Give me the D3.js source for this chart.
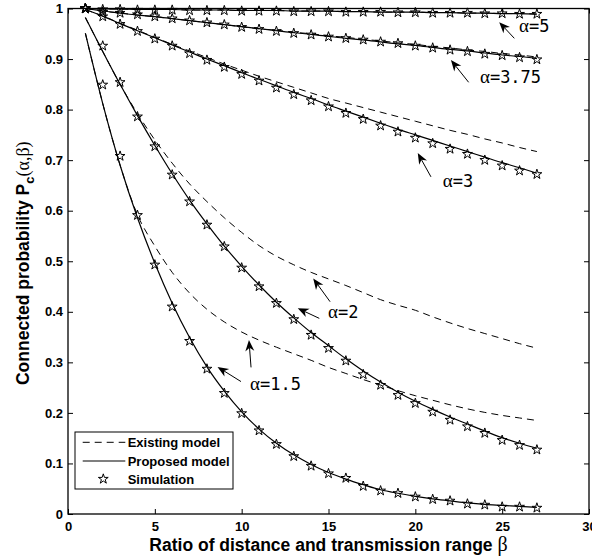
<!DOCTYPE html>
<html>
<head>
<meta charset="utf-8">
<script src="https://d3js.org/d3.v7.min.js"></script>
<style>
  body { margin: 0; background: #fff; }
  svg { display: block; }
  .tick text { font-family: "Liberation Sans", Arial, sans-serif; font-weight: bold; font-size: 13px; fill: #000; }
  .tick line { stroke: #000; stroke-width: 1; }
  .aText { font-family: "Liberation Sans", Arial, sans-serif; font-weight: bold; font-size: 17.5px; fill: #000; }
  .greek { font-family: "Liberation Serif", "DejaVu Serif", serif; font-weight: normal; }
  .note { font-family: "DejaVu Sans Mono", monospace; font-size: 17px; fill: #000; }
  .legText { font-family: "Liberation Sans", Arial, sans-serif; font-weight: bold; font-size: 13px; fill: #000; }
</style>
</head>
<body>
<div id="chart"></div>
<script>
// beta = distance / transmission range
var beta = [1, 2, 3, 4, 5, 6, 7, 8, 9, 10, 11, 12, 13, 14, 15, 16, 17, 18, 19, 20, 21, 22, 23, 24, 25, 26, 27];

// alpha = 1.5
var existing15 = [0.951, 0.812, 0.690, 0.592, 0.530, 0.478, 0.437, 0.405, 0.380, 0.360, 0.344, 0.330, 0.317, 0.304, 0.290, 0.278, 0.266, 0.255, 0.244, 0.234, 0.225, 0.216, 0.208, 0.201, 0.195, 0.190, 0.185];
var proposed15 = [0.951, 0.812, 0.690, 0.586, 0.496, 0.417, 0.349, 0.291, 0.243, 0.202, 0.168, 0.140, 0.117, 0.098, 0.082, 0.069, 0.058, 0.048, 0.041, 0.035, 0.030, 0.026, 0.022, 0.019, 0.017, 0.015, 0.013];
var sim15 = [1.000, 0.849, 0.708, 0.591, 0.493, 0.410, 0.342, 0.287, 0.239, 0.199, 0.165, 0.138, 0.114, 0.095, 0.080, 0.071, 0.055, 0.046, 0.041, 0.034, 0.029, 0.026, 0.020, 0.018, 0.014, 0.014, 0.012];

// alpha = 2
var existing2 = [0.982, 0.915, 0.850, 0.792, 0.740, 0.694, 0.653, 0.618, 0.586, 0.557, 0.531, 0.510, 0.493, 0.478, 0.465, 0.452, 0.438, 0.424, 0.413, 0.403, 0.390, 0.378, 0.367, 0.357, 0.347, 0.337, 0.328];
var proposed2 = [0.982, 0.915, 0.850, 0.788, 0.729, 0.673, 0.621, 0.574, 0.530, 0.490, 0.453, 0.419, 0.388, 0.359, 0.333, 0.307, 0.283, 0.261, 0.241, 0.223, 0.207, 0.192, 0.178, 0.164, 0.151, 0.140, 0.130];
var sim2 = [1.000, 0.926, 0.854, 0.786, 0.727, 0.671, 0.618, 0.572, 0.529, 0.487, 0.450, 0.417, 0.385, 0.354, 0.328, 0.303, 0.276, 0.255, 0.235, 0.219, 0.202, 0.186, 0.173, 0.160, 0.146, 0.136, 0.127];

// alpha = 3
var existing3 = [0.998, 0.985, 0.971, 0.957, 0.943, 0.929, 0.916, 0.903, 0.890, 0.878, 0.866, 0.855, 0.844, 0.833, 0.822, 0.813, 0.804, 0.795, 0.786, 0.777, 0.768, 0.759, 0.751, 0.742, 0.734, 0.725, 0.717];
var proposed3 = [0.998, 0.985, 0.970, 0.956, 0.942, 0.928, 0.914, 0.900, 0.887, 0.873, 0.860, 0.847, 0.834, 0.822, 0.809, 0.797, 0.785, 0.773, 0.761, 0.750, 0.739, 0.728, 0.717, 0.706, 0.695, 0.685, 0.674];
var sim3 = [1.000, 0.984, 0.969, 0.955, 0.940, 0.926, 0.911, 0.898, 0.884, 0.870, 0.857, 0.843, 0.830, 0.818, 0.806, 0.793, 0.781, 0.768, 0.756, 0.744, 0.733, 0.722, 0.712, 0.700, 0.689, 0.679, 0.672];

// alpha = 3.75
var existing375 = [1.000, 0.995, 0.991, 0.987, 0.984, 0.980, 0.976, 0.972, 0.968, 0.964, 0.960, 0.957, 0.953, 0.950, 0.946, 0.943, 0.939, 0.936, 0.932, 0.929, 0.925, 0.922, 0.918, 0.915, 0.911, 0.908, 0.904];
var proposed375 = [1.000, 0.995, 0.991, 0.987, 0.984, 0.980, 0.976, 0.972, 0.968, 0.964, 0.960, 0.956, 0.952, 0.949, 0.945, 0.941, 0.938, 0.934, 0.930, 0.927, 0.923, 0.919, 0.916, 0.912, 0.908, 0.905, 0.901];
var sim375 = [1.000, 0.993, 0.991, 0.988, 0.984, 0.980, 0.976, 0.972, 0.968, 0.963, 0.959, 0.955, 0.951, 0.948, 0.944, 0.941, 0.938, 0.934, 0.931, 0.926, 0.922, 0.918, 0.915, 0.910, 0.907, 0.903, 0.899];

// alpha = 5
var existing5 = [1.000, 0.999, 0.999, 0.998, 0.998, 0.998, 0.997, 0.997, 0.997, 0.996, 0.996, 0.996, 0.995, 0.995, 0.995, 0.994, 0.994, 0.993, 0.993, 0.993, 0.992, 0.992, 0.991, 0.991, 0.990, 0.990, 0.989];
var proposed5 = [1.000, 0.999, 0.999, 0.998, 0.998, 0.998, 0.997, 0.997, 0.997, 0.996, 0.996, 0.996, 0.995, 0.995, 0.995, 0.994, 0.994, 0.993, 0.993, 0.993, 0.992, 0.992, 0.991, 0.991, 0.990, 0.990, 0.989];
var sim5 = [1.000, 0.998, 0.998, 0.997, 0.997, 0.997, 0.996, 0.996, 0.996, 0.995, 0.995, 0.995, 0.994, 0.994, 0.994, 0.993, 0.993, 0.993, 0.992, 0.992, 0.991, 0.991, 0.991, 0.990, 0.990, 0.989, 0.989];

var xTicks = [0, 5, 10, 15, 20, 25, 30];
var yTicks = [0, 0.1, 0.2, 0.3, 0.4, 0.5, 0.6, 0.7, 0.8, 0.9, 1];
var legendLabels = ["Existing model", "Proposed model", "Simulation"];

// curve labels: text position and arrows [tailX, tailY, tipX, tipY], all in data units
var alphaLabels = ["5", "3.75", "3", "2", "1.5"];
var labelPos = [[25.97, 0.954], [23.72, 0.852], [21.58, 0.6475], [14.97, 0.3887], [10.48, 0.2453]];
var labelArrows = [
  [[25.70, 0.941, 24.83, 0.973]],
  [[23.07, 0.854, 22.05, 0.898]],
  [[20.90, 0.667, 20.14, 0.714]],
  [[15.09, 0.420, 14.12, 0.466], [14.47, 0.387, 13.23, 0.407]],
  [[10.54, 0.290, 10.42, 0.344], [9.96, 0.262, 8.61, 0.291]]
];

var series = [
  {existing: existing15, proposed: proposed15, sim: sim15},
  {existing: existing2, proposed: proposed2, sim: sim2},
  {existing: existing3, proposed: proposed3, sim: sim3},
  {existing: existing375, proposed: proposed375, sim: sim375},
  {existing: existing5, proposed: proposed5, sim: sim5}
];

var svgWidth = 592;
var svgHeight = 560;
var margin = {top: 8.5, right: 3, bottom: 46, left: 68};
var width = svgWidth - margin.left - margin.right;
var height = svgHeight - margin.top - margin.bottom;

var svg = d3.select("#chart")
  .append("svg")
  .attr("width", svgWidth)
  .attr("height", svgHeight);

var chartGroup = svg.append("g")
  .attr("transform", `translate(${margin.left}, ${margin.top})`);

var xScale = d3.scaleLinear().domain([0, 30]).range([0, width]);
var yScale = d3.scaleLinear().domain([0, 1]).range([height, 0]);

var yFormat = d => (d === 0 || d === 1) ? String(d) : d.toFixed(1);

// axes with inward ticks on all four sides
chartGroup.append("g")
  .attr("transform", `translate(0, ${height})`)
  .call(d3.axisBottom(xScale).tickValues(xTicks).tickSizeInner(-5).tickSizeOuter(0).tickPadding(8))
  .call(g => g.select(".domain").remove());

chartGroup.append("g")
  .call(d3.axisLeft(yScale).tickValues(yTicks).tickFormat(yFormat).tickSizeInner(-5).tickSizeOuter(0).tickPadding(5))
  .call(g => g.select(".domain").remove());

chartGroup.append("g")
  .call(d3.axisTop(xScale).tickValues(xTicks).tickFormat("").tickSizeInner(-5).tickSizeOuter(0))
  .call(g => g.select(".domain").remove());

chartGroup.append("g")
  .attr("transform", `translate(${width}, 0)`)
  .call(d3.axisRight(yScale).tickValues(yTicks).tickFormat("").tickSizeInner(-5).tickSizeOuter(0))
  .call(g => g.select(".domain").remove());

var line = d3.line()
  .x((d, i) => xScale(beta[i]))
  .y(d => yScale(d))
  .curve(d3.curveMonotoneX);

var star = d3.symbol().type(d3.symbolStar).size(30);

series.forEach(function(s) {
  chartGroup.append("path")
    .attr("d", line(s.existing))
    .attr("fill", "none")
    .attr("stroke", "#000")
    .attr("stroke-width", 1)
    .attr("stroke-dasharray", "7,5");

  chartGroup.append("path")
    .attr("d", line(s.proposed))
    .attr("fill", "none")
    .attr("stroke", "#000")
    .attr("stroke-width", 1.2);

  chartGroup.selectAll(null)
    .data(s.sim)
    .enter()
    .append("path")
    .attr("d", star)
    .attr("transform", (d, i) => `translate(${xScale(beta[i])}, ${yScale(d)})`)
    .attr("fill", "none")
    .attr("stroke", "#000")
    .attr("stroke-width", 1);
});

// frame
chartGroup.append("rect")
  .attr("width", width)
  .attr("height", height)
  .attr("fill", "none")
  .attr("stroke", "#000")
  .attr("stroke-width", 1.3);

// arrows pointing at the curves
function drawArrow(a) {
  var x1 = xScale(a[0]), y1 = yScale(a[1]), x2 = xScale(a[2]), y2 = yScale(a[3]);
  var dx = x2 - x1, dy = y2 - y1, len = Math.sqrt(dx * dx + dy * dy);
  var ux = dx / len, uy = dy / len, nx = -uy, ny = ux;
  var hl = 11, hw = 4.5;
  var bx = x2 - ux * hl, by = y2 - uy * hl;
  var cx = x2 - ux * hl * 0.7, cy = y2 - uy * hl * 0.7;
  chartGroup.append("line")
    .attr("x1", x1).attr("y1", y1)
    .attr("x2", cx).attr("y2", cy)
    .attr("stroke", "#000")
    .attr("stroke-width", 1);
  chartGroup.append("path")
    .attr("d", `M${x2},${y2}L${bx + nx * hw},${by + ny * hw}L${cx},${cy}L${bx - nx * hw},${by - ny * hw}Z`)
    .attr("fill", "#000");
}

alphaLabels.forEach(function(lab, i) {
  labelArrows[i].forEach(drawArrow);
  var t = chartGroup.append("text")
    .attr("class", "note")
    .attr("x", xScale(labelPos[i][0]))
    .attr("y", yScale(labelPos[i][1]));
  t.append("tspan").attr("class", "greek").style("font-size", "19px").text("α");
  t.append("tspan").text("=" + lab);
});

// legend
var legend = chartGroup.append("g")
  .attr("transform", "translate(7, 423.5)");

legend.append("rect")
  .attr("width", 158)
  .attr("height", 57)
  .attr("fill", "#fff")
  .attr("stroke", "#000")
  .attr("stroke-width", 1);

var rowY = [10.3, 29, 47];

legend.append("line")
  .attr("x1", 7.7).attr("x2", 50.3)
  .attr("y1", rowY[0]).attr("y2", rowY[0])
  .attr("stroke", "#000")
  .attr("stroke-dasharray", "7,5");

legend.append("line")
  .attr("x1", 7.7).attr("x2", 50.3)
  .attr("y1", rowY[1]).attr("y2", rowY[1])
  .attr("stroke", "#000")
  .attr("stroke-width", 1.2);

legend.append("path")
  .attr("d", star)
  .attr("transform", `translate(28.3, ${rowY[2]})`)
  .attr("fill", "none")
  .attr("stroke", "#000")
  .attr("stroke-width", 1);

legend.selectAll(null)
  .data(legendLabels)
  .enter()
  .append("text")
  .attr("class", "legText")
  .attr("x", 52.7)
  .attr("y", (d, i) => rowY[i] + 4.6)
  .text(d => d);

// axis labels
var xLabel = chartGroup.append("text")
  .attr("class", "aText")
  .attr("text-anchor", "middle")
  .attr("x", width / 2)
  .attr("y", height + 37);
xLabel.append("tspan").text("Ratio of distance and transmission range ");
xLabel.append("tspan").attr("class", "greek").style("font-size", "20px").text("β");

var yLabel = chartGroup.append("text")
  .attr("class", "aText")
  .attr("text-anchor", "middle")
  .attr("transform", `translate(${-39}, ${height / 2 + 2}) rotate(-90)`);
yLabel.append("tspan").text("Connected probability P");
yLabel.append("tspan").attr("dy", 5).style("font-size", "13px").text("c");
yLabel.append("tspan").attr("dy", -5).attr("class", "greek").style("font-size", "18px").text("(α,β)");
</script>
</body>
</html>
